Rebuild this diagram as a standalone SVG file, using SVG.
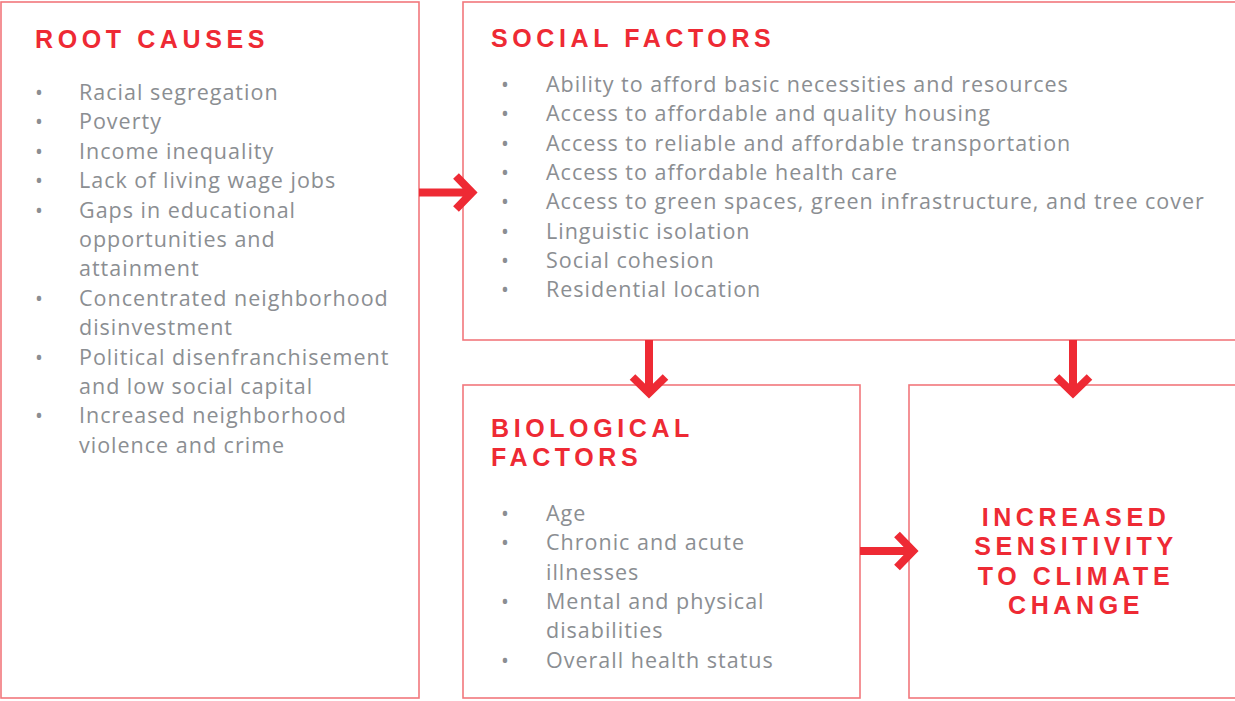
<svg xmlns="http://www.w3.org/2000/svg" width="1235" height="701" viewBox="0 0 1235 701">
<style>
.box{fill:#fff;stroke:#f2777c;stroke-width:1.6}
.title{font-family:"Liberation Sans",Arial,sans-serif;font-weight:bold;font-size:25px;letter-spacing:4.6px;fill:#ee2a34}
.item{font-family:"Open Sans",sans-serif;font-size:21.5px;letter-spacing:1px;fill:#8b8e92}
.bul{font-family:"Open Sans",sans-serif;font-size:21px;fill:#8b8e92}
.shaft{stroke:#ee2a34;stroke-width:8;fill:none}
.head{stroke:#ee2a34;stroke-width:8;fill:none;stroke-linejoin:miter}
</style>
<rect width="1235" height="701" fill="#fff"/>
<g id="root-causes">
<rect class="box" x="1" y="2" width="418" height="696"/>
<text class="title" x="35" y="48">ROOT CAUSES</text>
<g class="bul">
<text x="35" y="100">•</text><text x="35" y="129.4">•</text><text x="35" y="158.8">•</text><text x="35" y="188.2">•</text><text x="35" y="217.6">•</text><text x="35" y="305.8">•</text><text x="35" y="364.6">•</text><text x="35" y="423.4">•</text>
</g>
<g class="item">
<text x="79" y="100">Racial segregation</text>
<text x="79" y="129.4">Poverty</text>
<text x="79" y="158.8">Income inequality</text>
<text x="79" y="188.2">Lack of living wage jobs</text>
<text x="79" y="217.6">Gaps in educational</text>
<text x="79" y="247">opportunities and</text>
<text x="79" y="276.4">attainment</text>
<text x="79" y="305.8">Concentrated neighborhood</text>
<text x="79" y="335.2">disinvestment</text>
<text x="79" y="364.6">Political disenfranchisement</text>
<text x="79" y="394">and low social capital</text>
<text x="79" y="423.4">Increased neighborhood</text>
<text x="79" y="452.8">violence and crime</text>
</g>
</g>
<g id="social-factors">
<rect class="box" x="463" y="2" width="780" height="338"/>
<text class="title" x="491" y="47">SOCIAL FACTORS</text>
<g class="bul">
<text x="501" y="92">•</text><text x="501" y="121.3">•</text><text x="501" y="150.6">•</text><text x="501" y="179.9">•</text><text x="501" y="209.2">•</text><text x="501" y="238.5">•</text><text x="501" y="267.8">•</text><text x="501" y="297.1">•</text>
</g>
<g class="item">
<text x="546" y="92">Ability to afford basic necessities and resources</text>
<text x="546" y="121.3">Access to affordable and quality housing</text>
<text x="546" y="150.6">Access to reliable and affordable transportation</text>
<text x="546" y="179.9">Access to affordable health care</text>
<text x="546" y="209.2">Access to green spaces, green infrastructure, and tree cover</text>
<text x="546" y="238.5">Linguistic isolation</text>
<text x="546" y="267.8">Social cohesion</text>
<text x="546" y="297.1">Residential location</text>
</g>
</g>
<g id="biological-factors">
<rect class="box" x="463" y="385" width="397" height="313"/>
<text class="title" x="491" y="437">BIOLOGICAL</text>
<text class="title" x="491" y="466">FACTORS</text>
<g class="bul">
<text x="501" y="521">•</text><text x="501" y="550.3">•</text><text x="501" y="608.9">•</text><text x="501" y="667.5">•</text>
</g>
<g class="item">
<text x="546" y="521">Age</text>
<text x="546" y="550.3">Chronic and acute</text>
<text x="546" y="579.6">illnesses</text>
<text x="546" y="608.9">Mental and physical</text>
<text x="546" y="638.2">disabilities</text>
<text x="546" y="667.5">Overall health status</text>
</g>
</g>
<g id="increased-sensitivity">
<rect class="box" x="909" y="385" width="334" height="313"/>
<g class="title" text-anchor="middle">
<text x="1076" y="526">INCREASED</text>
<text x="1076" y="555.3">SENSITIVITY</text>
<text x="1076" y="584.6">TO CLIMATE</text>
<text x="1076" y="613.9">CHANGE</text>
</g>
</g>
<g id="connectors">
<line class="shaft" x1="419" y1="192.5" x2="472" y2="192.5"/>
<polyline class="head" points="456,176 472,192.5 456,209"/>
<line class="shaft" x1="649" y1="340" x2="649" y2="393"/>
<polyline class="head" points="632.5,377 649,393 665.5,377"/>
<line class="shaft" x1="1073" y1="340" x2="1073" y2="393"/>
<polyline class="head" points="1056.5,377 1073,393 1089.5,377"/>
<line class="shaft" x1="860" y1="551" x2="913" y2="551"/>
<polyline class="head" points="897,534.5 913,551 897,567.5"/>
</g>
</svg>
